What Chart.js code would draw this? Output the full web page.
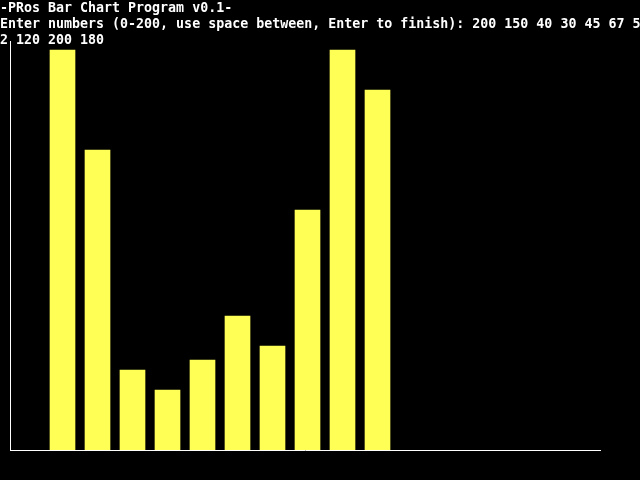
<!DOCTYPE html>
<html>
<head>
<meta charset="utf-8">
<script src="https://cdn.jsdelivr.net/npm/chart.js@4/dist/chart.umd.min.js"></script>
<style>
  html, body { margin: 0; padding: 0; background: #000; width: 640px; height: 480px; overflow: hidden; }
  #c { position: absolute; left: 0; top: 0; }
  .line { position: absolute; left: 0; color: #fff; font-family: "DejaVu Sans Mono", monospace; font-weight: bold; font-size: 13.3px; line-height: 16px; white-space: pre; letter-spacing: 0; }
</style>
</head>
<body>
<canvas id="c" width="640" height="480"></canvas>
<div class="line" style="top:0px">-PRos Bar Chart Program v0.1-</div>
<div class="line" style="top:16px">Enter numbers (0-200, use space between, Enter to finish): 200 150 40 30 45 67 5</div>
<div class="line" style="top:32px">2 120 200 180</div>
<script>
const values = [200, 150, 40, 30, 45, 67, 52, 120, 200, 180];
const positions = [0, 1, 2, 3, 4, 5, 6, 7, 8, 9];

const points = positions.map((p, i) => ({ x: p, y: values[i] }));

new Chart(document.getElementById('c'), {
  type: 'bar',
  data: {
    datasets: [{
      data: points,
      backgroundColor: '#FFFF55',
      borderWidth: 0,
      barThickness: 25
    }]
  },
  options: {
    responsive: false,
    animation: false,
    devicePixelRatio: 1,
    layout: { padding: { left: 10, right: 40, top: 41, bottom: 30 } },
    plugins: { legend: { display: false }, tooltip: { enabled: false } },
    scales: {
      x: {
        type: 'linear',
        offset: false,
        bounds: 'ticks',
        min: -1.5,
        max: 590 / 35 - 1.5,
        ticks: { display: false },
        grid: { display: false, drawTicks: false, tickLength: 0, offset: false },
        border: { display: true, color: '#ffffff', width: 1 }
      },
      y: {
        min: 0,
        max: 204.5,
        ticks: { display: false },
        grid: { display: false, drawTicks: false, tickLength: 0 },
        border: { display: true, color: '#ffffff', width: 1 }
      }
    }
  }
});
</script>
</body>
</html>
